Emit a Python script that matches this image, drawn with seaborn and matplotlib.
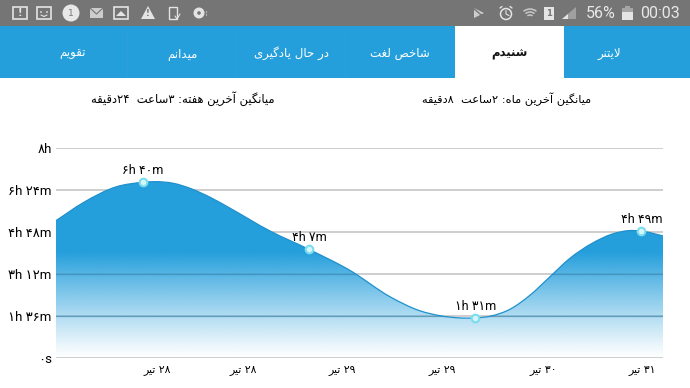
import numpy as np
import pandas as pd
import matplotlib
matplotlib.use('Agg')
import matplotlib.pyplot as plt
from matplotlib.patches import Rectangle, Circle, Polygon, PathPatch, Arc
from matplotlib.path import Path
import seaborn as sns

# chart data, minutes against point index
curve_x = [-0.524, -0.36, -0.158, 0, 0.072, 0.183, 0.283, 0.404, 0.524, 0.765, 1.0, 1.247, 1.488, 1.669, 1.789, 1.91,
           2.0, 2.09, 2.21, 2.33, 2.45, 2.57, 2.703, 2.823, 2.924, 3.0, 3.13]
curve_y = [313.7, 354.7, 391.2, 401, 402.6, 398.8, 387.4, 366.9, 342, 290, 248, 200, 140, 108, 97, 92,
           92, 96, 112, 144, 186, 228, 262, 283, 291, 290, 279]
point_x = [0, 1, 2, 3]
point_y = [401, 248, 92, 290]
point_labels = ['۶h ۴۰m', '۴h ۷m', '۱h ۳۱m', '۴h ۴۹m']
y_ticks = [0, 96, 192, 288, 384, 480]
y_labels = ['۰s', '۱h ۳۶m', '۳h ۱۲m', '۴h ۴۸m', '۶h ۲۴m', '۸h']
x_ticks = [0.084, 0.602, 1.199, 1.80, 2.41, 3.006]
x_labels = ['۲۸ تیر', '۲۸ تیر', '۲۹ تیر', '۲۹ تیر', '۳۰ تیر', '۳۱ تیر']
tab_labels = ['تقویم', 'میدانم', 'در حال یادگیری', 'شاخص لغت', 'شنیدم', 'لایتنر']
week_text = 'میانگین آخرین هفته: ۳ساعت  ۲۴دقیقه'
month_text = 'میانگین آخرین ماه: ۲ساعت  ۸دقیقه'

BLUE = '#259FDC'

# matplotlib has no arabic shaping, so pick presentation forms by hand
dual = {'ب': 0xFE8F, 'ت': 0xFE95, 'ح': 0xFEA1, 'خ': 0xFEA5, 'س': 0xFEB1, 'ش': 0xFEB5, 'ص': 0xFEB9, 'ع': 0xFEC9,
        'غ': 0xFECD, 'ف': 0xFED1, 'ق': 0xFED5, 'ل': 0xFEDD, 'م': 0xFEE1, 'ن': 0xFEE5, 'ه': 0xFEE9,
        'ی': 0xFBFC, 'گ': 0xFB92}
right = {'ا': 0xFE8D, 'آ': 0xFE81, 'د': 0xFEA9, 'ر': 0xFEAD, 'و': 0xFEED}


def fa(text):
    text = text.replace('لا', '\uFEFB')
    out = []
    for i, c in enumerate(text):
        prev = text[i - 1] if i > 0 else ''
        nxt = text[i + 1] if i + 1 < len(text) else ''
        after = prev in dual
        if c == '\uFEFB':
            out.append('\uFEFC' if after else c)
        elif c in right:
            out.append(chr(right[c] + (1 if after else 0)))
        elif c in dual:
            before = nxt in dual or nxt in right or nxt == '\uFEFB'
            out.append(chr(dual[c] + (3 if after and before else 1 if after else 2 if before else 0)))
        else:
            out.append(c)
    # visual order, digit runs stay left to right
    runs, run = [], ''
    for c in out:
        if c in '۰۱۲۳۴۵۶۷۸۹':
            run += c
        else:
            if run:
                runs.append(run)
                run = ''
            runs.append(c)
    if run:
        runs.append(run)
    return ''.join(reversed(runs))


def spline_path(xs, ys, close_at=None):
    # smooth bezier through the read values, slopes from the neighbours
    xs, ys = np.array(xs), np.array(ys)
    slopes = np.gradient(ys, xs)
    verts = [(xs[0], ys[0])]
    codes = [Path.MOVETO]
    for i in range(len(xs) - 1):
        d = (xs[i + 1] - xs[i]) / 3
        verts += [(xs[i] + d, ys[i] + slopes[i] * d), (xs[i + 1] - d, ys[i + 1] - slopes[i + 1] * d),
                  (xs[i + 1], ys[i + 1])]
        codes += [Path.CURVE4] * 3
    if close_at is not None:
        verts += [(xs[-1], close_at), (xs[0], close_at), (xs[0], ys[0])]
        codes += [Path.LINETO, Path.LINETO, Path.CLOSEPOLY]
    return Path(verts, codes)


sns.set_theme(style='white')
plt.rcParams['font.family'] = ['DejaVu Sans']
MIXED = ['Roboto', 'DejaVu Sans']

fig = plt.figure(figsize=(6.9, 3.88), dpi=100)

# screen chrome in pixel coordinates
ui = fig.add_axes([0, 0, 1, 1])
ui.set_xlim(0, 690)
ui.set_ylim(388, 0)
ui.axis('off')
ui.add_patch(Rectangle((0, 0), 690, 26, color='#757575', lw=0))
ui.add_patch(Rectangle((0, 26), 690, 52, color=BLUE, lw=0))
ui.add_patch(Rectangle((455, 26), 109, 52, color='white', lw=0))
for sx in [127, 236, 345]:
    ui.plot([sx, sx], [32, 76], color='#319FDD', lw=0.6)
for cx, lab, col in zip([73, 182, 291, 400, 509, 609], tab_labels, ['white'] * 4 + ['#111111', 'white']):
    ui.text(cx, 53.5, fa(lab), ha='center', va='center', fontsize=8.5, color=col,
            fontweight='bold' if col != 'white' else 'normal')
ui.text(183, 99, fa(week_text), ha='center', va='center', fontsize=8.3, color='#000000')
ui.text(507, 99, fa(month_text), ha='center', va='center', fontsize=8.2, color='#000000')

# status bar icons
ICON = '#E4E4E4'
for ix in [20, 44, 121]:
    ui.add_patch(Rectangle((ix - 7, 7), 14, 12, fill=False, ec=ICON, lw=1.2))
ui.text(20, 12.5, '!', ha='center', va='center', fontsize=7, color=ICON, fontweight='bold')
ui.add_patch(Circle((41, 12), 0.9, color=ICON, lw=0))
ui.add_patch(Circle((47, 12), 0.9, color=ICON, lw=0))
ui.plot([41, 44, 47], [15, 16.5, 15], color=ICON, lw=0.8)
ui.add_patch(Circle((71, 13), 8.5, color='#E8E8E8', lw=0))
ui.text(71, 13, '1', ha='center', va='center', fontsize=6.5, color='#777777')
ui.add_patch(Rectangle((90, 8), 13, 10, color=ICON, alpha=0.8, lw=0))
ui.plot([90, 96.5, 103], [8, 14, 8], color='#757575', lw=0.8)
ui.add_patch(Polygon([[116, 16], [121, 11], [126, 16]], color=ICON, lw=0))
ui.add_patch(Polygon([[141, 19], [155, 19], [148, 6]], color=ICON, lw=0))
ui.text(148, 14, '!', ha='center', va='center', fontsize=6, color='#757575', fontweight='bold')
ui.add_patch(Rectangle((169, 7), 8, 12, fill=False, ec=ICON, lw=1))
ui.plot([175, 177, 180], [16, 19, 14], color=ICON, lw=0.8)
ui.add_patch(Circle((199, 13), 5.5, color=ICON, lw=0))
ui.add_patch(Circle((199, 13), 1.8, color='#757575', lw=0))
ui.plot([206, 206], [11, 15], color=ICON, lw=0.8, ls=':')
ui.add_patch(Polygon([[474, 8], [484, 13], [474, 18]], color=ICON, alpha=0.8, lw=0))
ui.plot([473, 486], [8, 19], color='#757575', lw=1)
ui.add_patch(Circle((506, 14), 5.5, fill=False, ec=ICON, lw=1.1))
ui.plot([506, 506, 509], [10.5, 14, 15.5], color=ICON, lw=0.8)
ui.plot([500, 502], [8, 6.5], color=ICON, lw=1)
ui.plot([510, 512], [6.5, 8], color=ICON, lw=1)
for r in [4, 7, 10]:
    ui.add_patch(Arc((530, 19), 2 * r, 2 * r, theta1=230, theta2=310, color=ICON, lw=1.1, alpha=0.75))
ui.add_patch(Rectangle((544, 7), 10, 13, color=ICON, lw=0))
ui.text(549, 13.5, '1', ha='center', va='center', fontsize=6, color='#777777', fontweight='bold')
ui.add_patch(Polygon([[562, 19], [576, 19], [576, 7]], color='#A0A0A0', lw=0))
ui.add_patch(Polygon([[562, 19], [568, 19], [568, 14]], color=ICON, lw=0))
ui.add_patch(Rectangle((622, 8), 11, 12, color='#A5A5A5', lw=0))
ui.add_patch(Rectangle((622, 12), 11, 8, color=ICON, lw=0))
ui.add_patch(Rectangle((625, 6), 5, 2, color='#A5A5A5', lw=0))
ui.text(601, 13.5, '56%', ha='center', va='center', fontsize=11.5, color='#E8E8E8', family='Roboto')
ui.text(660, 13.5, '00:03', ha='center', va='center', fontsize=11.5, color='#E8E8E8', family='Roboto')

# chart axes sit exactly on the plot area of the picture
left, right_px, top, bottom = 56, 663, 147.7, 358.3
ax = fig.add_axes([left / 690, 1 - bottom / 388, (right_px - left) / 690, (bottom - top) / 388])
ax.patch.set_alpha(0)
xlim = (-0.524, 3.13)
ylim = (0, 480)

points = pd.DataFrame({'x': point_x, 'y': point_y})

for v in y_ticks:
    ax.axhline(v, color='#C6C6C6', lw=1.2, zorder=1)

area_path = spline_path(curve_x, curve_y, close_at=0)
grad = np.zeros((256, 1, 4))
grad[:, :, :3] = matplotlib.colors.to_rgb(BLUE)
# top row of the array is the top of the filled area
rows = np.linspace(410, 0, 256)
grad[:, 0, 3] = np.clip(rows / 240, 0, 1) ** 1.1
im = ax.imshow(grad, extent=(xlim[0], xlim[1], 0, 410), origin='upper', aspect='auto', zorder=2)
im.set_clip_path(area_path, transform=ax.transData)

# grid shows through the lower, paler part of the fill
for v in y_ticks[1:3]:
    gl = ax.axhline(v, color='#3F86AE', lw=0.9, alpha=0.6, zorder=2.5)
    gl.set_clip_path(area_path, transform=ax.transData)

ax.add_patch(PathPatch(spline_path(curve_x, curve_y), fill=False, ec='#1F90CC', lw=0.9, zorder=3))
sns.scatterplot(data=points, x='x', y='y', s=30, color='#D8F6FA', edgecolor='#7ADDEF', linewidth=1.5, ax=ax,
                zorder=4, legend=False, clip_on=False)

for px, py, lab in zip(point_x, point_y, point_labels):
    ax.annotate(lab, (px, py), xytext=(0, 8.5), textcoords='offset points', ha='center', va='center',
                fontsize=9, color='#000000', family=MIXED)

ax.set_xlim(*xlim)
ax.set_ylim(*ylim)
ax.set_xlabel('')
ax.set_ylabel('')
ax.set_yticks(y_ticks)
ax.set_yticklabels(y_labels, fontsize=9.5, color='#000000', family=MIXED)
ax.set_xticks(x_ticks)
ax.set_xticklabels([fa(s) for s in x_labels], fontsize=7.8, color='#000000')
ax.tick_params(axis='y', length=0, pad=3)
ax.tick_params(axis='x', length=0, pad=5)
sns.despine(ax=ax, left=True, bottom=True, top=True, right=True)

fig.savefig('out.png', dpi=100)
